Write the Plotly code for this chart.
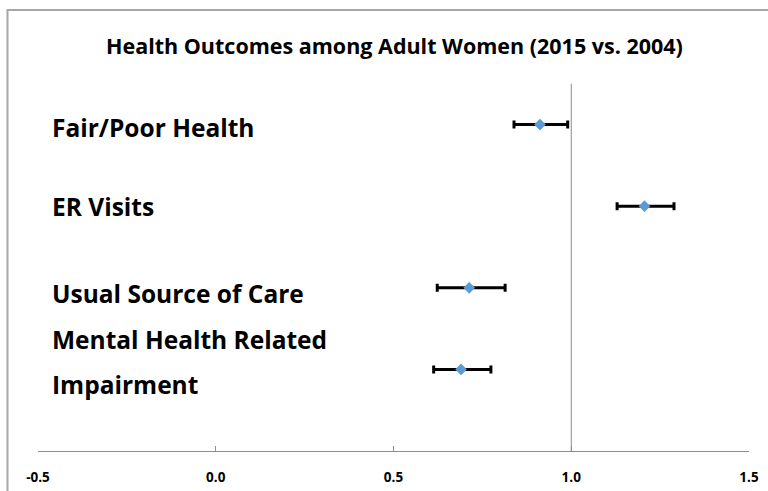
import plotly.graph_objects as go

# ---- data ----
categories = ["Fair/Poor Health", "ER Visits", "Usual Source of Care", "Mental Health Related Impairment"]
label_lines = [["Fair/Poor Health"], ["ER Visits"], ["Usual Source of Care"], ["Mental Health Related", "Impairment"]]
positions = [4, 3, 2, 1]
estimates = [0.912, 1.206, 0.713, 0.690]
lower_ci = [0.839, 1.129, 0.623, 0.613]
upper_ci = [0.990, 1.289, 0.814, 0.774]
x_ticks = [-0.5, 0.0, 0.5, 1.0, 1.5]
x_tick_labels = ["-0.5", "0.0", "0.5", "1.0", "1.5"]
title_text = "Health Outcomes among Adult Women (2015 vs. 2004)"

FONT = "'Open Sans', sans-serif"

err_plus = [u - e for u, e in zip(upper_ci, estimates)]
err_minus = [e - l for e, l in zip(estimates, lower_ci)]

fig = go.Figure()
fig.add_trace(go.Scatter(
    x=estimates, y=positions, mode="markers",
    marker=dict(symbol="diamond", size=9, color="#5B9BD5"),
    error_x=dict(type="data", symmetric=False, array=err_plus, arrayminus=err_minus,
                 color="black", thickness=3, width=4),
    showlegend=False, hoverinfo="x",
))

# reference line at 1.0
fig.add_shape(type="line", x0=1.0, x1=1.0, y0=0, y1=4.5, xref="x", yref="y",
              line=dict(color="#8C8C8C", width=1), layer="below")

# outer chart border
fig.add_shape(type="rect", xref="paper", yref="paper", x0=-0.0429, x1=1.05, y0=-0.2, y1=1.081,
              line=dict(color="#A6A6A6", width=2))

annotations = []
shifts = [[-3], [0], [-6], [30, -15]]
for lines, pos, sh in zip(label_lines, positions, shifts):
    for line, s in zip(lines, sh):
        annotations.append(dict(x=-0.465, y=pos, xref="x", yref="y", text=line, showarrow=False,
                                xanchor="left", yanchor="middle", yshift=s,
                                font=dict(family=FONT, size=24.5, color="black", weight="bold")))

annotations.append(dict(x=0.5, y=0.995, xref="paper", yref="paper", text=title_text, showarrow=False,
                        xanchor="center", yanchor="middle", xshift=1,
                        font=dict(family=FONT, size=21.5, color="black", weight="bold")))

fig.update_layout(
    width=768, height=491,
    margin=dict(l=37.5, r=19, t=43, b=39.5),
    paper_bgcolor="white", plot_bgcolor="white",
    annotations=annotations,
    xaxis=dict(range=[-0.5, 1.5], tickvals=x_ticks, ticktext=x_tick_labels,
               ticks="inside", ticklen=5, tickwidth=1, tickcolor="#8C8C8C", showline=True,
               linecolor="#8C8C8C", linewidth=1, showgrid=False, zeroline=False,
               ticklabelstandoff=14, automargin=False,
               tickfont=dict(family=FONT, size=13.5, color="black", weight="bold")),
    yaxis=dict(range=[0, 5], visible=False, showgrid=False, zeroline=False, automargin=False),
)

fig.write_html("out.html", config={"displayModeBar": False},
               post_script="document.body.style.margin='0';document.body.style.overflow='hidden';")
